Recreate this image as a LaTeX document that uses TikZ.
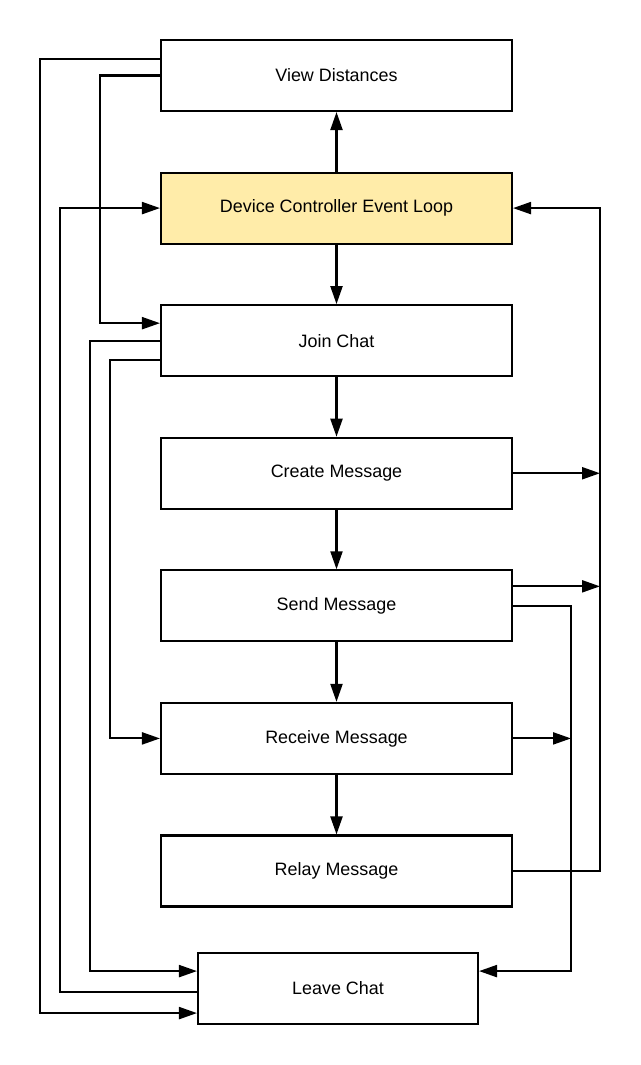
\documentclass[tikz,border=0pt]{standalone}
\usepackage{fontspec}
\setmainfont{Liberation Sans}
\usepackage{tikz}
\usetikzlibrary{arrows.meta}
\usetikzlibrary{positioning}
\usepackage{xcolor}
\definecolor{hubfill}{HTML}{FFECA9}

\begin{document}
\begin{tikzpicture}[
        x=0.02cm, y=-0.02cm,
        node distance=1.19cm,
        line width=1.2pt,
        block/.style={rectangle, draw=black, fill=white,
          minimum width=7.02cm, minimum height=1.42cm,
          align=center, font=\fontsize{10.2}{12}\selectfont},
        hub/.style={block, fill=hubfill},
        arrow/.style={-{Triangle[length=3.6mm, width=2.4mm]}, draw=black},
      ]
        \useasboundingbox (0,0) rectangle (640,1065);

        \node[block] (view) at (336.5,75.5) {View Distances};
        \node[hub, below=of view] (devloop) {Device Controller Event Loop};
        \node[block, below=of devloop] (join) {Join Chat};
        \node[block, below=of join] (create) {Create Message};
        \node[block, below=of create] (send) {Send Message};
        \node[block, below=of send] (receive) {Receive Message};
        \node[block, below=of receive] (relay) {Relay Message};
        \node[block, below=0.89cm of relay, xshift=0.03cm,
          minimum width=5.6cm] (leave) {Leave Chat};

        \coordinate (rail) at ([xshift=1.74cm]relay.east);
        \coordinate (inner) at ([xshift=1.16cm]send.east);

        \draw[arrow] (devloop) -- (view);
        \draw[arrow] (devloop) -- (join);
        \draw[arrow] (join) -- (create);
        \draw[arrow] (create) -- (send);
        \draw[arrow] (send) -- (receive);
        \draw[arrow] (receive) -- (relay);

        \draw[arrow] ([yshift=3.3mm]view.west) -- ++(-120,0) |- ([yshift=-4.9mm]leave.west);
        \draw[arrow] (view.west) -- ++(-60,0) |- ([yshift=3.5mm]join.west);
        \draw[arrow] ([yshift=-0.7mm]leave.west) -- ++(-137,0) |- (devloop.west);
        \draw[arrow] (join.west) -- ++(-70,0) |- ([yshift=3.5mm]leave.west);
        \draw[arrow] ([yshift=-3.9mm]join.west) -- ++(-50,0) |- (receive.west);

        \draw[arrow] (relay.east) -- (rail) |- (devloop.east);
        \draw[arrow] (create.east) -- (create.east -| rail);
        \draw[arrow] ([yshift=3.9mm]send.east) -- ([yshift=3.9mm]send.east -| rail);
        \draw[arrow] (send.east) -- (inner) |- ([yshift=3.5mm]leave.east);
        \draw[arrow] (receive.east) -- (receive.east -| inner);
      \end{tikzpicture}
\end{document}
